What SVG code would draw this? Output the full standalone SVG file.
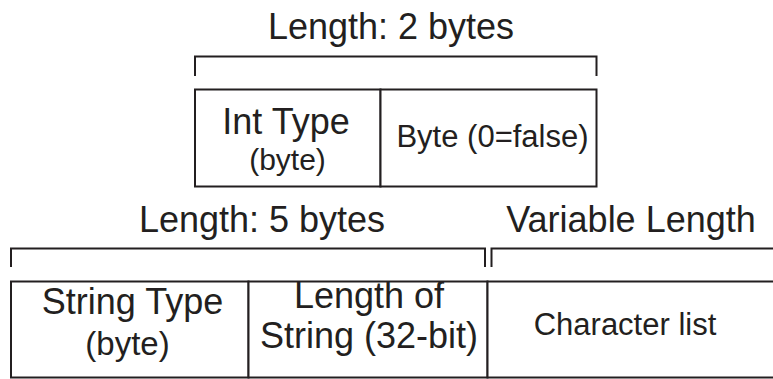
<svg xmlns="http://www.w3.org/2000/svg" width="773" height="379" viewBox="0 0 773 379">
<style>
.ln{fill:none;stroke:#231f20;stroke-width:2}
.bx{fill:#fff;stroke:#231f20;stroke-width:2}
text{font-family:"Liberation Sans",Arial,sans-serif;fill:#231f20;text-anchor:middle}
.big{font-size:36px}
.mid{font-size:31px}
.sm{font-size:30px}
.sm2{font-size:33px}
</style>
<rect width="773" height="379" fill="#fff"/>
<g id="brackets">
<path class="ln" d="M195,76 V56.5 H596.5 V76"/>
<path class="ln" d="M11,267 V248.5 H485 V267"/>
<path class="ln" d="M491.5,267 V248.5 H780"/>
</g>
<g id="label-len2"><text class="big" x="391" y="39">Length: 2 bytes</text></g>
<g id="label-len5"><text class="big" x="262" y="232">Length: 5 bytes</text></g>
<g id="label-var"><text class="big" x="631" y="232">Variable Length</text></g>
<g id="int-type">
<rect class="bx" x="195" y="89.5" width="185.5" height="97"/>
<text class="big" x="286" y="134">Int Type</text>
<text class="sm" x="287.5" y="170">(byte)</text>
</g>
<g id="bool-byte">
<rect class="bx" x="380.5" y="89.5" width="216" height="97"/>
<text class="mid" x="492.5" y="147">Byte (0=false)</text>
</g>
<g id="string-type">
<rect class="bx" x="11" y="281.5" width="237.5" height="96"/>
<text class="big" x="132.5" y="314">String Type</text>
<text class="sm2" x="127.5" y="355">(byte)</text>
</g>
<g id="string-length">
<rect class="bx" x="248.5" y="281.5" width="239" height="96"/>
<text class="big" x="369" y="308">Length of</text>
<text class="big" x="369" y="348">String (32-bit)</text>
</g>
<g id="char-list">
<rect class="bx" x="487.5" y="281.5" width="295" height="96"/>
<text class="mid" x="625" y="335">Character list</text>
</g>
</svg>
